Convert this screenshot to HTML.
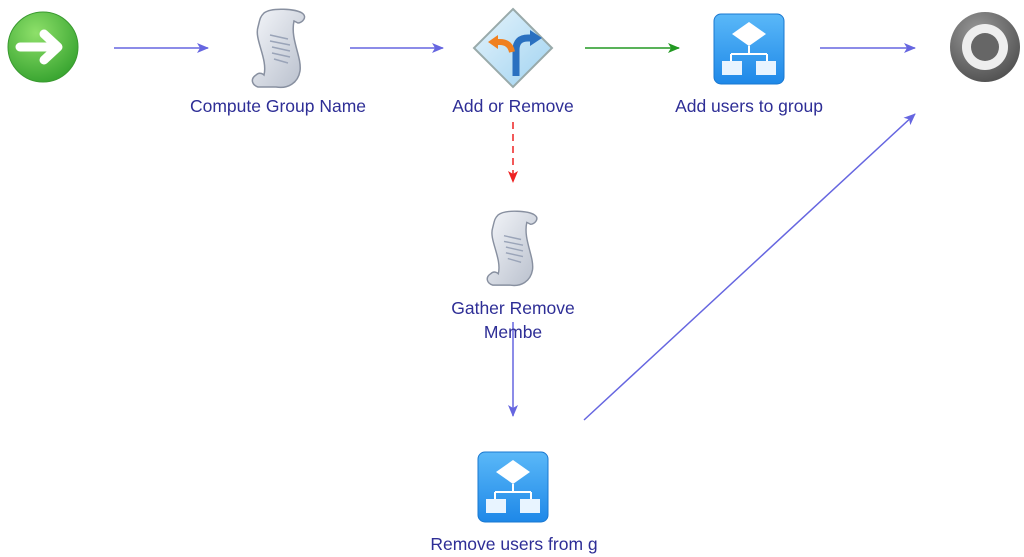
<!DOCTYPE html>
<html><head><meta charset="utf-8"><style>
html,body{margin:0;padding:0;background:#fff;width:1024px;height:557px;overflow:hidden}
svg{display:block}
text{font-family:"Liberation Sans",sans-serif;font-size:17.5px;fill:#2e2e96;text-anchor:middle}
</style></head><body>
<svg width="1024" height="557" viewBox="0 0 1024 557" xmlns="http://www.w3.org/2000/svg">
<defs>
<radialGradient id="gg" cx="0.4" cy="0.3" r="0.8"><stop offset="0" stop-color="#8ee06a"/><stop offset="1" stop-color="#2f9e2a"/></radialGradient>
<radialGradient id="eg" cx="0.4" cy="0.3" r="0.8"><stop offset="0" stop-color="#9a9a9a"/><stop offset="1" stop-color="#4a4a4a"/></radialGradient>
<linearGradient id="bg" x1="0" y1="0" x2="0" y2="1"><stop offset="0" stop-color="#5ab8f8"/><stop offset="1" stop-color="#1e88e8"/></linearGradient>
<linearGradient id="dg" x1="0" y1="0" x2="1" y2="1"><stop offset="0" stop-color="#e6f4fc"/><stop offset="1" stop-color="#9fd2f0"/></linearGradient>
<linearGradient id="sg" x1="0" y1="0" x2="1" y2="1"><stop offset="0" stop-color="#f4f6fa"/><stop offset="1" stop-color="#b8bfcc"/></linearGradient>
<marker id="ab" markerWidth="12" markerHeight="10" refX="11" refY="5" orient="auto" markerUnits="userSpaceOnUse"><path d="M0,0 L12,5 L0,10 L3,5 Z" fill="#6666e0"/></marker>
<marker id="ag" markerWidth="12" markerHeight="10" refX="11" refY="5" orient="auto" markerUnits="userSpaceOnUse"><path d="M0,0 L12,5 L0,10 L3,5 Z" fill="#229922"/></marker>
<marker id="ar" markerWidth="12" markerHeight="10" refX="11" refY="5" orient="auto" markerUnits="userSpaceOnUse"><path d="M0,0 L12,5 L0,10 L3,5 Z" fill="#ee2222"/></marker>
<g id="scroll">
<path d="M14,4 C22,-2 46,0 52,4 C58,8 52,14 48,14 L44,12 C40,30 52,48 50,62 C48,74 38,80 26,78 L8,78 C2,76 0,70 6,66 C10,62 14,66 14,66 C18,50 4,30 8,18 C10,10 10,8 14,4 Z" fill="url(#sg)" stroke="#8890a0" stroke-width="1.5"/>
<path d="M20,26 L38,30 M20,32 L40,36 M22,38 L40,42 M22,44 L40,48 M24,50 L38,54" stroke="#9aa4b8" stroke-width="1.5"/>
</g>
<g id="sub">
<rect x="0" y="0" width="70" height="70" rx="7" fill="url(#bg)" stroke="#1a78d0"/>
<path d="M35,8 L52,20 L35,32 L18,20 Z" fill="#fff"/>
<path d="M35,32 V40 M17,40 H53 M17,40 V47 M53,40 V47" stroke="#fff" stroke-width="2" fill="none"/>
<rect x="8" y="47" width="20" height="14" fill="#e8f4ff"/><rect x="42" y="47" width="20" height="14" fill="#e8f4ff"/>
</g>
</defs>

<!-- start -->
<circle cx="43" cy="47" r="35" fill="url(#gg)" stroke="#3a9a30"/>
<path d="M20,47 H56 M44,34 L58,47 L44,60" stroke="#fff" stroke-width="9" stroke-linecap="round" stroke-linejoin="round" fill="none"/>

<!-- end -->
<circle cx="985" cy="47" r="35" fill="url(#eg)"/>
<circle cx="985" cy="47" r="23" fill="#eeeeee"/>
<circle cx="985" cy="47" r="14" fill="#666"/>

<use href="#scroll" x="250" y="9"/>
<use href="#scroll" x="485" y="211" transform="translate(485 211) scale(0.95) translate(-485 -211)"/>

<!-- diamond -->
<path d="M513,9 L552,48 L513,87 L474,48 Z" fill="url(#dg)" stroke="#9aa" stroke-width="2"/>
<path d="M516,76 V50 Q516,38 528,38 H532" stroke="#2a70c0" stroke-width="7" fill="none"/>
<path d="M530,30 L542,38 L530,46 Z" fill="#2a70c0"/>
<path d="M512,52 Q510,42 500,42 H496" stroke="#f08020" stroke-width="6" fill="none"/>
<path d="M498,35 L488,42 L498,49 Z" fill="#f08020"/>

<use href="#sub" x="714" y="14"/>
<use href="#sub" x="478" y="452"/>

<!-- connectors -->
<line x1="114" y1="48" x2="208" y2="48" stroke="#6666e0" stroke-width="1.5" marker-end="url(#ab)"/>
<line x1="350" y1="48" x2="443" y2="48" stroke="#6666e0" stroke-width="1.5" marker-end="url(#ab)"/>
<line x1="585" y1="48" x2="679" y2="48" stroke="#229922" stroke-width="1.5" marker-end="url(#ag)"/>
<line x1="820" y1="48" x2="915" y2="48" stroke="#6666e0" stroke-width="1.5" marker-end="url(#ab)"/>
<line x1="513" y1="122" x2="513" y2="182" stroke="#ee2222" stroke-width="1.5" stroke-dasharray="7,5" marker-end="url(#ar)"/>
<line x1="513" y1="322" x2="513" y2="416" stroke="#6666e0" stroke-width="1.5" marker-end="url(#ab)"/>
<line x1="584" y1="420" x2="915" y2="114" stroke="#6666e0" stroke-width="1.5" marker-end="url(#ab)"/>

<!-- labels -->
<text x="278" y="112">Compute Group Name</text>
<text x="513" y="112">Add or Remove</text>
<text x="749" y="112">Add users to group</text>
<text x="513" y="314">Gather Remove</text>
<text x="513" y="338">Membe</text>
<text x="514" y="550">Remove users from g</text>
</svg>
</body></html>
